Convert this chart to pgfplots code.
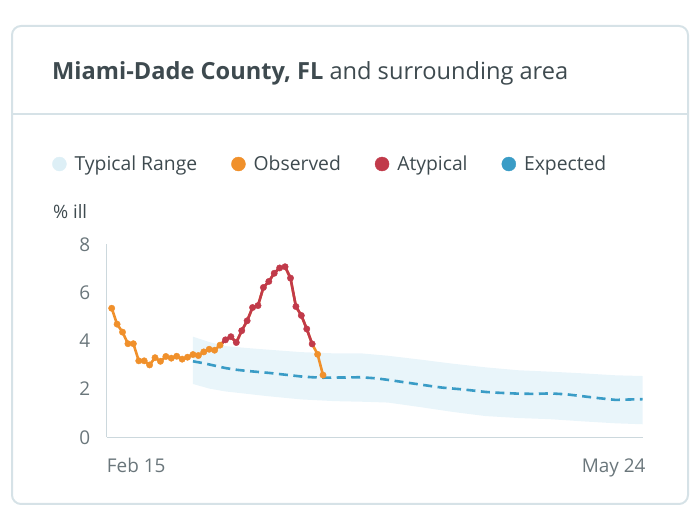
\documentclass[border=0pt]{standalone}
\usepackage{pgfplots}
\pgfplotsset{compat=1.18}
\usepackage{pgfplotstable}
\usepackage{fontspec}
\setmainfont{Open Sans}
\definecolor{obs}{HTML}{F0902B}
\definecolor{aty}{HTML}{C13A4A}
\definecolor{expc}{HTML}{3A9CC6}
\definecolor{bandc}{HTML}{E9F5FA}
\definecolor{bandleg}{HTML}{DDEFF6}
\definecolor{txt}{HTML}{3E4A4F}
\definecolor{tickc}{HTML}{6A767B}
\definecolor{axl}{HTML}{CCD8DD}
\definecolor{cardc}{HTML}{D6E2E7}

\pgfplotstableread{
x y
1 5.35
2 4.69
3 4.36
4 3.88
5 3.88
6 3.17
7 3.17
8 3.00
9 3.30
10 3.15
11 3.35
12 3.28
13 3.36
14 3.24
15 3.32
16 3.43
17 3.39
18 3.54
19 3.65
20 3.61
21 3.82
22 4.04
23 4.17
24 3.93
25 4.42
26 4.83
27 5.38
28 5.46
29 6.21
30 6.46
31 6.80
32 7.02
33 7.07
34 6.60
35 5.42
36 5.05
37 4.49
38 3.87
39 3.44
40 2.58
}\obstab

\pgfplotstableread{
x y
16 3.15
18 3.07
20 2.97
22 2.87
24 2.80
26 2.75
28 2.71
30 2.67
32 2.62
34 2.57
36 2.52
38 2.49
40 2.47
44 2.48
47 2.49
50 2.44
52 2.38
56 2.25
60 2.12
62 2.06
66 1.98
70 1.88
72 1.85
76 1.81
79 1.80
82 1.82
85 1.78
88 1.70
91 1.62
94 1.55
97 1.57
99 1.58
}\exptab

% typical range: upper edge left to right, then lower edge right to left
\pgfplotstableread{
x y
16 4.17
19 3.95
22 3.78
26 3.70
30 3.63
36 3.53
42 3.48
47 3.48
52 3.38
58 3.22
64 3.05
70 2.90
76 2.78
82 2.72
88 2.65
94 2.57
99 2.54
99 0.54
94 0.58
88 0.66
82 0.75
76 0.80
70 0.88
64 1.05
58 1.25
52 1.44
48 1.47
42 1.50
36 1.57
30 1.70
26 1.80
22 1.90
19 2.02
16 2.21
}\bandtab

\begin{document}
\begin{tikzpicture}
\path[use as bounding box] (0,0) rectangle (700bp,525bp);
\draw[cardc, line width=2bp, rounded corners=9bp] (12bp,21bp) rectangle (688bp,499bp);
\draw[cardc, line width=2bp] (12bp,411bp) -- (688bp,411bp);
\node[anchor=base west, inner sep=0pt, text=txt, font=\fontsize{23.7}{28}\selectfont] at (52bp,445.5bp)
  {\textbf{Miami-Dade County, FL} and surrounding area};
\node[anchor=base west, inner sep=0pt, text=txt, font=\fontsize{18.5}{22}\selectfont] at (53bp,306bp) {\% ill};

\begin{axis}[
  at={(106.7bp,87.7bp)}, anchor=south west,
  scale only axis, width=536bp, height=193bp,
  xmin=0.08, xmax=99, ymin=0, ymax=8,
  axis x line=bottom, axis y line=left,
  axis line style={draw=axl, line width=1.2bp, -},
  ytick={0,2,4,6,8}, xtick=\empty,
  major tick length=0pt,
  /pgf/number format/assume math mode=true,
  yticklabel style={font=\fontsize{19}{22}\selectfont, text=tickc, xshift=-13bp},
  clip=false,
  legend columns=4,
  legend style={at={(-0.102,1.416)}, anchor=west, draw=none, fill=none,
    font=\fontsize{19.4}{23}\selectfont, text=txt, inner sep=0pt,
    nodes={inner sep=0pt},
    /tikz/every odd column/.append style={column sep=8bp},
    /tikz/every even column/.append style={column sep=34bp}},
]
\addlegendimage{legend image code/.code={\fill[bandleg] (7bp,0bp) circle (7bp);}}
\addlegendimage{legend image code/.code={\fill[obs] (7bp,0bp) circle (7bp);}}
\addlegendimage{legend image code/.code={\fill[aty] (7bp,0bp) circle (7bp);}}
\addlegendimage{legend image code/.code={\fill[expc] (7bp,0bp) circle (7bp);}}
\legend{Typical Range, Observed, Atypical, Expected}

\addplot[fill=bandc, draw=none, forget plot] table {\bandtab} -- cycle;

\addplot[expc, line width=2.6bp, dash pattern=on 9bp off 5.5bp, forget plot] table {\exptab};

\addplot[obs, line width=2.6bp, forget plot] table {\obstab};
\addplot[aty, line width=2.6bp, forget plot, restrict x to domain=21:38] table {\obstab};
\addplot[obs, only marks, mark=*, mark size=3.2bp, forget plot, restrict x to domain=1:21] table {\obstab};
\addplot[obs, only marks, mark=*, mark size=3.2bp, forget plot, restrict x to domain=39:40] table {\obstab};
\addplot[aty, only marks, mark=*, mark size=3.2bp, forget plot, restrict x to domain=22:38] table {\obstab};

\node[anchor=base west, inner sep=0pt, text=tickc, font=\fontsize{19}{22}\selectfont, yshift=-35bp] at (rel axis cs:0,0) {Feb 15};
\node[anchor=base east, inner sep=0pt, text=tickc, font=\fontsize{19}{22}\selectfont, yshift=-35bp, xshift=3bp] at (rel axis cs:1,0) {May 24};
\end{axis}
\end{tikzpicture}
\end{document}
